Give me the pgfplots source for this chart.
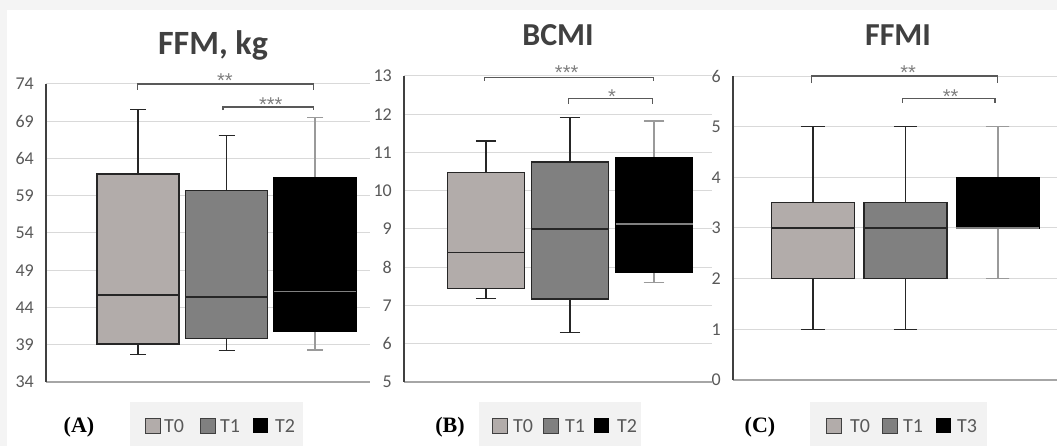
\documentclass[border=0pt]{standalone}
\usepackage{pgfplots}
\pgfplotsset{compat=1.18}
\usepgfplotslibrary{statistics}
\usepackage{fontspec}
\setmainfont{Carlito}
\newfontfamily\seriffont{Liberation Serif}
\newfontfamily\starfont{Liberation Sans}
\definecolor{tzero}{HTML}{B2ACAA}
\definecolor{tone}{HTML}{808080}
\definecolor{gridc}{HTML}{D9D9D9}
\definecolor{labc}{HTML}{595959}
\definecolor{titlec}{HTML}{404040}
\definecolor{edgec}{HTML}{262626}
\definecolor{wlight}{HTML}{9A9A9A}
\definecolor{brc}{HTML}{595959}
\definecolor{starc}{HTML}{7F7F7F}
\definecolor{legbg}{HTML}{F2F2F2}
\definecolor{framec}{HTML}{F4F4F4}
\definecolor{yaxc}{HTML}{404040}
\definecolor{xaxc}{HTML}{A6A6A6}
\pgfplotsset{
  panel/.style={
    scale only axis, anchor=south west,
    axis line style={draw=none},
    xtick=\empty, ymajorgrids,
    grid style={draw=gridc, line width=1pt},
    major tick length=0pt,
    tick label style={font=\fontsize{18}{18}\selectfont, color=labc},
    yticklabel style={anchor=east, inner sep=0pt, xshift=-12pt},
    /pgf/number format/assume math mode=true,
    clip=false,
    boxplot/draw direction=y,
  },
  bxT0/.style={draw=edgec, line width=1.4pt, fill=tzero,
    boxplot/every whisker/.style={draw=edgec, line width=1.3pt},
    boxplot/every median/.style={draw=edgec, line width=1.4pt}},
  bxT1/.style={draw=edgec, line width=1.4pt, fill=tone,
    boxplot/every whisker/.style={draw=edgec, line width=1.3pt},
    boxplot/every median/.style={draw=edgec, line width=1.4pt}},
  bxT2/.style={draw=black, line width=1.4pt, fill=black,
    boxplot/every whisker/.style={draw=wlight, line width=1.3pt},
    boxplot/every median/.style={draw=gray, line width=1.3pt}},
}
\tikzset{
  brk/.style={draw=brc, line width=1.2pt},
  star/.style={color=starc, font=\fontsize{20}{20}\selectfont\starfont, anchor=base, inner sep=0pt, yshift=-2.5pt},
  ttl/.style={color=titlec, font=\fontsize{34}{34}\selectfont\bfseries, anchor=base},
  legt/.style={color=labc, font=\fontsize{20}{20}\selectfont, anchor=west, inner sep=0pt},
  lab/.style={color=black, font=\fontsize{22}{22}\selectfont\seriffont},
}
\begin{document}
\begin{tikzpicture}
\useasboundingbox (0pt,0pt) rectangle (1057pt,446pt);
\fill[framec] (0pt,0pt) rectangle (1057pt,446pt);
\fill[white] (7pt,0pt) rectangle (1057pt,436pt);

% ---------- Panel A ----------
\begin{axis}[panel, at={(46pt,64pt)}, width=324pt, height=298pt,
  xmin=-0.04, xmax=3.62, ymin=34, ymax=74, ytick={34,39,...,74}]
\addplot[bxT0, boxplot prepared={draw position=1, lower whisker=37.7, lower quartile=39.1, median=45.7, upper quartile=61.9, upper whisker=70.6, box extend=0.927, whisker extend=0.18}] coordinates {};
\addplot[bxT1, boxplot prepared={draw position=2, lower whisker=38.2, lower quartile=39.8, median=45.4, upper quartile=59.7, upper whisker=67.1, box extend=0.927, whisker extend=0.18}] coordinates {};
\addplot[bxT2, boxplot prepared={draw position=3, lower whisker=38.3, lower quartile=40.8, median=46.1, upper quartile=61.4, upper whisker=69.5, box extend=0.927, whisker extend=0.18}] coordinates {};
\draw[xaxc, line width=1.6pt] (rel axis cs:0,0) -- (rel axis cs:1,0);
\draw[yaxc, line width=1.8pt] (rel axis cs:0,0) -- (rel axis cs:0,1);
\draw[brk] (axis cs:0.99,73.2) -- (axis cs:0.99,74) -- (axis cs:2.98,74) -- (axis cs:2.98,73.2);
\node[star] at (axis cs:1.98,73.87) {**};
\draw[brk] (axis cs:1.96,70.5) -- (axis cs:1.96,70.9) -- (axis cs:2.98,70.9) -- (axis cs:2.98,70.5);
\node[star] at (axis cs:2.5,70.64) {***};
\end{axis}

% ---------- Panel B ----------
\begin{axis}[panel, at={(404pt,64pt)}, width=308pt, height=306pt,
  xmin=0.024, xmax=3.69, ymin=5, ymax=13, ytick={5,6,...,13}]
\addplot[bxT0, boxplot prepared={draw position=1, lower whisker=7.18, lower quartile=7.45, median=8.39, upper quartile=10.47, upper whisker=11.3, box extend=0.917, whisker extend=0.24}] coordinates {};
\addplot[bxT1, boxplot prepared={draw position=2, lower whisker=6.3, lower quartile=7.17, median=9.0, upper quartile=10.75, upper whisker=11.92, box extend=0.917, whisker extend=0.24}] coordinates {};
\addplot[bxT2, boxplot prepared={draw position=3, lower whisker=7.61, lower quartile=7.87, median=9.13, upper quartile=10.86, upper whisker=11.82, box extend=0.917, whisker extend=0.24}] coordinates {};
\draw[xaxc, line width=1.6pt] (rel axis cs:0,0) -- (rel axis cs:1,0);
\draw[yaxc, line width=1.8pt] (rel axis cs:0,0) -- (rel axis cs:0,1);
\draw[brk] (axis cs:0.98,12.87) -- (axis cs:0.98,12.97) -- (axis cs:2.99,12.97) -- (axis cs:2.99,12.87);
\node[star] at (axis cs:1.96,12.97) {***};
\draw[brk] (axis cs:1.98,12.27) -- (axis cs:1.98,12.42) -- (axis cs:2.98,12.42) -- (axis cs:2.98,12.27);
\node[star] at (axis cs:2.5,12.35) {*};
\end{axis}

% ---------- Panel C ----------
\begin{axis}[panel, at={(733pt,66pt)}, width=324pt, height=304pt,
  xmin=0.135, xmax=3.64, ymin=0, ymax=6, ytick={0,1,...,6}]
\addplot[bxT0, boxplot prepared={draw position=1, lower whisker=1, lower quartile=2, median=3, upper quartile=3.5, upper whisker=5, box extend=0.897, whisker extend=0.25}] coordinates {};
\addplot[bxT1, boxplot prepared={draw position=2, lower whisker=1, lower quartile=2, median=3, upper quartile=3.5, upper whisker=5, box extend=0.897, whisker extend=0.25}] coordinates {};
\addplot[bxT2, boxplot prepared={draw position=3, lower whisker=2, lower quartile=3, median=3, upper quartile=4, upper whisker=5, box extend=0.897, whisker extend=0.25}] coordinates {};
\draw[xaxc, line width=1.6pt] (rel axis cs:0,0) -- (rel axis cs:1,0);
\draw[yaxc, line width=1.8pt] (rel axis cs:0,0) -- (rel axis cs:0,1);
\draw[brk] (axis cs:0.98,5.86) -- (axis cs:0.98,6.0) -- (axis cs:3.0,6.0) -- (axis cs:3.0,5.86);
\node[star] at (axis cs:2.03,5.98) {**};
\draw[brk] (axis cs:1.97,5.47) -- (axis cs:1.97,5.55) -- (axis cs:2.97,5.55) -- (axis cs:2.97,5.47);
\node[star] at (axis cs:2.49,5.51) {**};
\end{axis}

% ---------- Titles ----------
\node[ttl] at (213pt,391pt) {FFM, kg};
\node[ttl, font=\fontsize{32}{32}\selectfont\bfseries] at (558pt,400pt) {BCMI};
\node[ttl, font=\fontsize{32}{32}\selectfont\bfseries] at (898pt,400pt) {FFMI};

% ---------- Legends ----------
\fill[legbg] (130pt,0pt) rectangle (303pt,44pt);
\fill[legbg] (479pt,0pt) rectangle (641pt,44pt);
\fill[legbg] (810pt,0pt) rectangle (987pt,44pt);
\node[lab] at (79pt,19pt) {\textbf{(A)}};
\node[lab] at (450pt,19pt) {\textbf{(B)}};
\node[lab] at (760pt,19pt) {\textbf{(C)}};
% A
\filldraw[fill=tzero, draw=yaxc, line width=1pt] (145.5pt,12.5pt) rectangle (160.5pt,27.5pt);
\node[legt] at (164pt,20pt) {T0};
\filldraw[fill=tone, draw=yaxc, line width=1pt] (200pt,12.5pt) rectangle (215pt,27.5pt);
\node[legt] at (220pt,20pt) {T1};
\fill[black] (253pt,12.5pt) rectangle (268pt,27.5pt);
\node[legt] at (275pt,20pt) {T2};
% B
\filldraw[fill=tzero, draw=yaxc, line width=1pt] (492pt,12.5pt) rectangle (507pt,27.5pt);
\node[legt] at (513pt,20pt) {T0};
\filldraw[fill=tone, draw=yaxc, line width=1pt] (543pt,12.5pt) rectangle (558pt,27.5pt);
\node[legt] at (565pt,20pt) {T1};
\fill[black] (594pt,12.5pt) rectangle (609pt,27.5pt);
\node[legt] at (617pt,20pt) {T2};
% C
\filldraw[fill=tzero, draw=yaxc, line width=1pt] (826.5pt,12.5pt) rectangle (841.5pt,27.5pt);
\node[legt] at (850pt,20pt) {T0};
\filldraw[fill=tone, draw=yaxc, line width=1pt] (882pt,12.5pt) rectangle (897pt,27.5pt);
\node[legt] at (903pt,20pt) {T1};
\fill[black] (936pt,12.5pt) rectangle (951pt,27.5pt);
\node[legt] at (957pt,20pt) {T3};
\end{tikzpicture}
\end{document}
